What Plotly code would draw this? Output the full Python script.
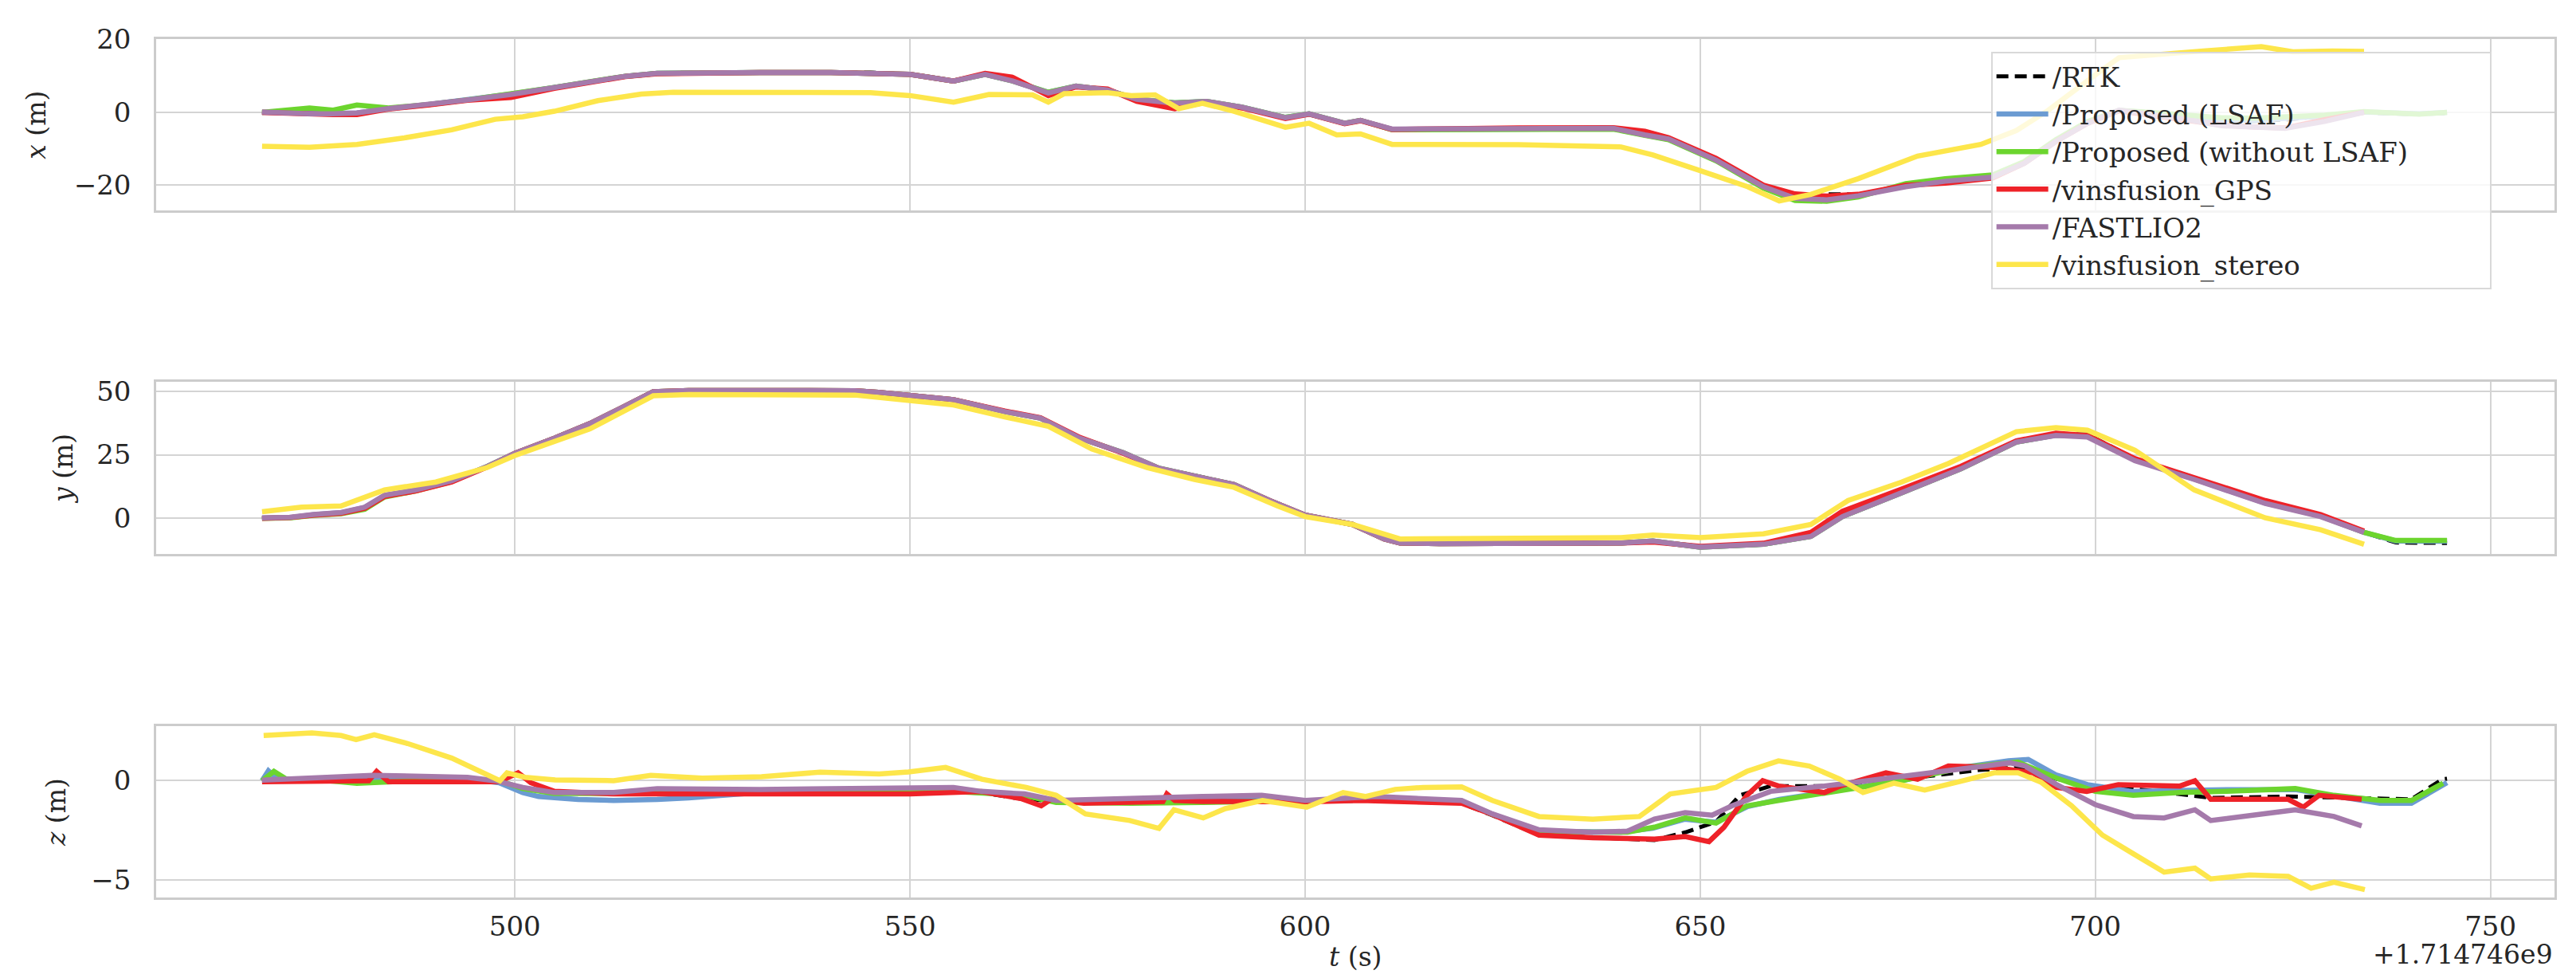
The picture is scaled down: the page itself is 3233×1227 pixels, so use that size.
import plotly.graph_objects as go
from plotly.subplots import make_subplots

# ---- x (m) : shared time grid for the clustered estimators ----
t_x = [468, 471, 474, 477, 480, 484, 489, 494, 499.5, 505, 510, 514, 518, 524, 531, 540, 545,
       550, 555.5, 559.5, 563, 567.5, 571, 575, 578.7, 583.5, 587.5, 592, 597.5, 600.5, 605,
       607, 611, 617, 627, 639, 643, 646, 652, 658, 662, 666, 670, 676, 681, 687, 691, 695,
       699, 703, 707, 711, 716, 720, 724, 729, 734, 737, 741, 744.5]
rtk_x = [0.0, -0.3, -0.4, -0.4, -0.3, 1.0, 2.1, 3.4, 5.0, 6.9, 8.7, 10.0, 10.8, 11.0, 11.0, 11.0,
         10.9, 10.5, 8.7, 10.5, 8.7, 5.4, 7.2, 6.1, 3.6, 2.5, 3.0, 1.4, -1.5, -0.4, -3.0, -2.2,
         -4.6, -4.6, -4.4, -4.4, -6.2, -7.4, -13.0, -20.3, -22.8, -22.5, -22.5, -20.2, -18.8,
         -17.7, -14.0, -8.0, -3.0, 0.5, -0.3, -1.2, -2.2, -2.4, -2.0, -1.0, 0.0, -0.3, -0.5, -0.2]
lsaf_x = [0.0, -0.2, -0.3, -0.3, -0.2, 1.0, 2.1, 3.4, 5.0, 6.8, 8.6, 9.9, 10.7, 10.9, 10.9, 10.9,
          10.8, 10.4, 8.6, 10.4, 8.6, 5.5, 7.2, 6.1, 3.6, 2.6, 3.0, 1.4, -1.4, -0.4, -3.0, -2.2,
          -4.7, -4.7, -4.5, -4.5, -6.2, -7.4, -13.2, -20.6, -23.8, -24.2, -23.0, -20.0, -18.6,
          -17.5, -13.8, -7.8, -2.8, 0.5, -0.2, -1.0, -2.0, -2.2, -1.8, -1.0, 0.1, -0.2, -0.4, 0.0]
nolsaf_x = [0.0, 0.5, 1.2, 0.6, 2.0, 1.2, 2.1, 3.4, 5.0, 6.8, 8.6, 9.9, 10.7, 10.9, 10.9, 10.9,
            10.8, 10.4, 8.6, 10.4, 8.6, 5.5, 7.2, 6.1, 3.6, 2.6, 3.0, 1.4, -1.4, -0.4, -3.0, -2.2,
            -4.8, -4.8, -4.6, -4.6, -6.3, -7.5, -13.3, -20.8, -24.2, -24.4, -23.2, -19.6, -18.2,
            -17.2, -13.5, -7.5, -2.5, 0.5, 0.0, -0.8, -1.5, -1.6, -1.2, -0.8, 0.2, -0.2, -0.5, 0.0]
gps_x = [0.0, -0.3, -0.5, -0.6, -0.6, 0.9, 2.0, 3.3, 4.1, 6.6, 8.4, 9.8, 10.6, 10.9, 10.9, 10.9,
         10.8, 10.4, 8.6, 10.7, 9.6, 4.6, 7.0, 6.4, 3.0, 1.0, 2.8, 1.2, -1.7, -0.5, -3.1, -2.3,
         -4.7, -4.5, -4.3, -4.2, -5.2, -7.0, -12.6, -20.0, -22.4, -23.0, -22.5, -20.0, -19.4,
         -18.0, -14.0, -8.0, -3.0, 0.4, -0.7, -1.8, -3.5, -4.0, -4.3, -2.0, 0.0]
fast_x = [0.1, -0.2, -0.4, -0.4, -0.2, 1.0, 2.1, 3.4, 4.9, 6.8, 8.6, 9.9, 10.7, 10.9, 10.9, 10.9,
          10.8, 10.4, 8.6, 10.4, 8.6, 5.3, 7.2, 6.1, 3.6, 2.5, 3.0, 1.4, -1.5, -0.4, -3.0, -2.2,
          -4.6, -4.6, -4.4, -4.4, -6.2, -7.3, -13.1, -20.4, -23.6, -24.0, -22.9, -20.4, -18.9,
          -17.8, -14.0, -8.0, -3.0, 0.6, -0.6, -1.8, -3.7, -4.2, -4.4, -2.5, 0.0]
t_stereo_x = [468, 474, 480, 486, 492, 497.5, 501, 505, 510.5, 516, 520, 531, 545, 550, 555.5,
              560, 565.5, 567.5, 569.5, 575, 578, 581, 584, 587, 591, 597.5, 600.5, 604, 607,
              611, 627, 640, 644, 650, 656, 660, 664, 670, 677.5, 685.5, 690, 694, 697, 700,
              703, 708, 714, 721, 725, 730, 734]
stereo_x = [-9.3, -9.6, -8.8, -7.0, -4.8, -1.9, -1.2, 0.3, 3.2, 5.0, 5.5, 5.4, 5.4, 4.6, 2.8,
            4.9, 4.8, 2.8, 5.1, 5.4, 4.6, 4.8, 1.0, 2.5, 0.3, -4.1, -3.0, -6.2, -5.9, -8.8,
            -8.9, -9.5, -11.7, -16.0, -20.4, -24.3, -22.5, -18.2, -12.0, -8.8, -5.0, 0.5, 5.5,
            10.3, 15.0, 16.0, 16.9, 18.0, 16.6, 16.8, 16.7]

# ---- y (m) ----
t_y = [468, 471.5, 474.5, 478, 481, 483.5, 487.5, 492, 496.5, 500, 505, 509.5, 513.5, 517.5,
       522, 531, 543, 546, 550, 555.5, 562, 566.5, 571.5, 577, 581.5, 586, 591, 595.5, 600,
       606, 610, 612, 617, 640, 644, 650, 658, 664, 668, 675.5, 683, 690, 695, 699, 705,
       712.5, 721.5, 728.5, 734, 738, 741, 744.5]
rtk_y = [0.0, 0.3, 1.4, 2.1, 4.2, 8.9, 11.0, 14.6, 20.3, 25.5, 31.4, 37.2, 43.4, 49.7, 50.2,
         50.1, 50.1, 49.5, 48.1, 46.6, 42.0, 39.4, 31.5, 25.8, 19.7, 16.9, 13.3, 7.0, 1.3, -2.4,
         -8.1, -9.8, -10.0, -9.8, -9.0, -11.4, -10.3, -7.0, 1.0, 10.4, 19.8, 30.2, 33.0, 33.0,
         23.5, 16.0, 6.5, 1.0, -5.5, -9.5, -9.7, -9.7]
lsaf_y = [0.1, 0.3, 1.4, 2.2, 4.3, 9.0, 11.1, 14.7, 20.4, 25.6, 31.5, 37.3, 43.5, 49.8, 50.3,
          50.2, 50.2, 49.6, 48.2, 46.7, 42.0, 39.4, 31.5, 25.8, 19.7, 16.9, 13.3, 7.0, 1.3, -2.4,
          -8.1, -9.7, -9.9, -9.7, -8.9, -11.3, -10.2, -7.1, 0.7, 10.1, 19.5, 30.0, 32.7, 32.4,
          23.0, 15.5, 6.0, 0.9, -5.5, -8.9, -9.0, -9.0]
nolsaf_y = [0.0, 0.2, 1.2, 1.8, 3.6, 8.4, 10.8, 14.5, 20.4, 25.6, 31.5, 37.3, 43.5, 49.8, 50.3,
            50.2, 50.2, 49.6, 48.2, 46.7, 42.0, 39.4, 31.5, 25.8, 19.7, 16.9, 13.3, 7.0, 1.3,
            -2.4, -8.1, -9.7, -9.9, -9.7, -8.9, -11.3, -10.2, -7.1, 0.7, 10.1, 19.5, 30.0, 32.8,
            32.6, 23.2, 15.6, 6.2, 1.0, -5.5, -8.7, -8.7, -8.7]
gps_y = [0.0, 0.3, 1.3, 2.0, 4.0, 8.6, 10.8, 14.3, 20.2, 25.6, 31.5, 37.3, 43.5, 49.8, 50.3,
         50.2, 50.2, 49.6, 48.2, 46.7, 42.2, 39.6, 31.8, 25.6, 19.6, 16.8, 13.2, 7.0, 1.3, -2.4,
         -8.1, -9.7, -9.9, -9.7, -9.3, -11.0, -9.8, -5.5, 2.8, 11.5, 20.5, 30.5, 33.5, 32.6,
         23.5, 16.0, 7.0, 1.5, -5.0]
fast_y = [0.2, 0.4, 1.5, 2.3, 4.4, 9.1, 11.2, 14.8, 20.4, 25.6, 31.5, 37.3, 43.5, 49.8, 50.3,
          50.2, 50.2, 49.6, 48.2, 46.7, 42.0, 39.4, 31.5, 25.8, 19.7, 16.9, 13.3, 7.0, 1.3, -2.4,
          -8.1, -9.7, -9.9, -9.7, -8.9, -11.3, -10.2, -7.1, 0.7, 10.1, 19.5, 30.0, 32.6, 32.0,
          22.7, 15.3, 5.9, 0.7, -5.5]
t_stereo_y = [468, 473, 478, 483.5, 490, 496.5, 500, 509.5, 517.5, 522, 543, 550, 555.5, 562,
              567.5, 573, 580, 586, 591, 596.5, 600, 606, 610, 612, 640, 644, 650, 658, 664,
              668.7, 675.5, 681.4, 690, 695, 699, 705, 712.5, 721.5, 728.5, 734]
stereo_y = [2.6, 4.4, 4.9, 11.2, 14.3, 20.0, 24.7, 35.2, 48.2, 48.7, 48.5, 46.1, 44.6, 39.9,
            36.2, 27.3, 20.0, 15.3, 12.2, 4.9, 0.7, -2.4, -6.1, -8.1, -7.6, -6.6, -7.6, -6.1,
            -2.4, 7.0, 14.3, 21.6, 34.1, 35.7, 34.7, 26.8, 11.2, 0.2, -4.5, -10.2]

# ---- z (m) ----
t_rtk_z = [468, 482, 494, 498, 501, 505, 512.5, 531, 550, 559, 563.8, 568.5, 578, 587, 600, 609,
           619.8, 623.7, 629.6, 636.4, 644.2, 648.1, 652, 655, 658.9, 665.7, 675.5, 685.3,
           690.2, 695.1, 700, 704.8, 714.6, 724.4, 734.1, 740, 743.9, 744.5]
rtk_z = [0.0, 0.1, 0.05, 0.0, -0.4, -0.6, -0.65, -0.6, -0.55, -0.6, -0.9, -1.05, -1.0, -0.95,
         -1.05, -1.0, -1.14, -1.75, -2.75, -2.85, -3.0, -2.61, -2.08, -0.74, -0.27, -0.27, 0.07,
         0.54, 0.67, 0.1, -0.34, -0.4, -0.87, -0.8, -0.87, -0.94, 0.07, 0.1]
t_lsaf_z = [468, 468.8, 470, 475, 482, 494, 498, 501, 503, 508, 512.5, 518, 522, 531, 550, 559,
            564.5, 568.5, 578, 587, 600, 609, 619.8, 623.7, 629.6, 640, 644, 648, 652, 656, 660,
            668, 676, 682, 689, 691.5, 695, 699, 704.8, 710.7, 716.6, 725.3, 730, 736, 740, 744.5]
lsaf_z = [0.0, 0.5, 0.05, 0.1, 0.15, 0.1, -0.1, -0.6, -0.8, -0.95, -1.0, -0.95, -0.87, -0.6,
          -0.45, -0.6, -0.75, -1.05, -0.95, -0.85, -1.05, -0.9, -1.05, -1.7, -2.55, -2.6, -2.4,
          -1.95, -2.1, -1.3, -0.95, -0.45, 0.05, 0.6, 1.0, 1.07, 0.3, -0.2, -0.55, -0.5, -0.45,
          -0.45, -0.75, -1.14, -1.14, -0.1]
t_nolsaf_z = [468, 469.5, 471, 475, 480, 484, 494, 498, 501, 505, 512.5, 518, 531, 550, 559,
              564.5, 568.5, 578, 587, 600, 609, 619.8, 623.7, 629.6, 640.8, 644.2, 648.1, 652,
              655.9, 659.9, 667.7, 675.5, 683.3, 690.2, 695.1, 700, 704.8, 710.7, 716.6, 725.3,
              730.2, 736.1, 740, 744]
nolsaf_z = [0.0, 0.47, 0.1, 0.05, -0.13, -0.05, 0.1, 0.0, -0.4, -0.65, -0.65, -0.5, -0.5, -0.42,
            -0.6, -0.75, -1.1, -1.14, -1.1, -1.05, -0.95, -1.05, -1.7, -2.6, -2.6, -2.35, -1.88,
            -2.14, -1.27, -1.0, -0.47, 0.0, 0.67, 0.94, 0.13, -0.54, -0.74, -0.6, -0.54, -0.4,
            -0.74, -1.0, -1.0, -0.13]
t_gps_z = [468, 475, 481.5, 482.5, 484, 494, 498, 500.4, 502, 505, 512.5, 531, 550, 559, 564,
           566.6, 568, 572, 578, 582, 582.5, 583.5, 587, 594.5, 600, 607, 619.8, 623.7, 629.6,
           636.4, 644.2, 648.1, 651.1, 653, 655.9, 657.9, 659.9, 665.7, 667.7, 673.5, 677.5,
           681.4, 687.2, 692.1, 695.1, 698.9, 702.9, 710.7, 712.6, 714.6, 724.4, 726.3, 728.3,
           733.7]
gps_z = [-0.05, -0.05, 0.0, 0.47, -0.05, -0.05, -0.05, 0.4, -0.1, -0.54, -0.67, -0.67, -0.67,
         -0.55, -0.9, -1.27, -0.9, -1.14, -1.07, -1.05, -0.67, -1.0, -1.05, -1.07, -1.07, -1.0,
         -1.14, -1.7, -2.75, -2.88, -2.95, -2.82, -3.08, -2.35, -0.74, 0.0, -0.27, -0.6, -0.27,
         0.4, 0.07, 0.74, 0.67, 0.4, -0.34, -0.54, -0.2, -0.27, 0.0, -0.94, -0.94, -1.34, -0.74,
         -0.94]
t_fast_z = [468, 475, 482, 494, 497.5, 501, 505, 512.5, 518, 531, 550, 555.5, 559, 564.5, 568.5,
            578, 587, 594.5, 600, 605.8, 609, 619.8, 623.7, 629.6, 636.4, 640.8, 644.2, 648.1,
            651.5, 654, 658.9, 665.7, 669.6, 675.5, 681.4, 685.3, 689.2, 691.1, 695.1, 700,
            704.8, 708.7, 712.6, 714.6, 719.5, 725.3, 730.2, 733.7]
fast_z = [0.03, 0.17, 0.27, 0.17, 0.0, -0.34, -0.6, -0.6, -0.4, -0.44, -0.34, -0.34, -0.54,
          -0.67, -1.0, -0.87, -0.8, -0.74, -1.0, -0.87, -0.8, -1.0, -1.68, -2.48, -2.61, -2.55,
          -1.94, -1.61, -1.74, -1.27, -0.54, -0.27, -0.07, 0.2, 0.54, 0.74, 0.9, 0.74, -0.2,
          -1.21, -1.81, -1.88, -1.47, -2.01, -1.74, -1.47, -1.81, -2.28]
t_stereo_z = [468.2, 474.3, 478, 479.9, 482.2, 486.4, 492, 495.7, 498.1, 499, 501.3, 505.1,
              512.5, 517.2, 523.7, 531.2, 538.6, 546.1, 549.8, 554.5, 559.1, 564.7, 568.5,
              572.2, 577.8, 581.5, 583.4, 587.1, 589.9, 594.6, 600.2, 604.8, 607.6, 611.4,
              614.9, 619.8, 623.7, 629.6, 636.4, 642.3, 646.2, 652, 655.9, 659.9, 663.8, 667.7,
              670.6, 674.5, 678.4, 683.3, 687.2, 690.2, 693.1, 697, 700.9, 704.8, 708.7, 712.6,
              714.6, 719.5, 724.4, 727.3, 730.2, 734.1]
stereo_z = [2.28, 2.41, 2.28, 2.08, 2.32, 1.88, 1.14, 0.47, 0.0, 0.4, 0.17, 0.04, 0.0, 0.27,
            0.13, 0.2, 0.43, 0.34, 0.44, 0.67, 0.07, -0.34, -0.74, -1.68, -2.01, -2.41, -1.47,
            -1.88, -1.41, -1.0, -1.34, -0.6, -0.8, -0.44, -0.34, -0.31, -1.0, -1.81, -1.94,
            -1.81, -0.67, -0.34, 0.47, 1.0, 0.74, 0.07, -0.6, -0.13, -0.47, 0.0, 0.4, 0.4,
            -0.07, -1.27, -2.75, -3.69, -4.62, -4.42, -4.96, -4.76, -4.83, -5.43, -5.13, -5.5]

names = ["/RTK", "/Proposed (LSAF)", "/Proposed (without LSAF)", "/vinsfusion_GPS",
         "/FASTLIO2", "/vinsfusion_stereo"]
colors = ["#000000", "#6b9bd2", "#6cd52e", "#ee2228", "#a57aab", "#fde64b"]

series = [
    [(t_x, rtk_x), (t_y, rtk_y), (t_rtk_z, rtk_z)],
    [(t_x, lsaf_x), (t_y, lsaf_y), (t_lsaf_z, lsaf_z)],
    [(t_x, nolsaf_x), (t_y, nolsaf_y), (t_nolsaf_z, nolsaf_z)],
    [(t_x, gps_x), (t_y, gps_y), (t_gps_z, gps_z)],
    [(t_x, fast_x), (t_y, fast_y), (t_fast_z, fast_z)],
    [(t_stereo_x, stereo_x), (t_stereo_y, stereo_y), (t_stereo_z, stereo_z)],
]

FONT = "DejaVu Serif"
TXT = "#262626"
# widen the legend box a bit, as in the original figure
legend_pad = "\u00a0" * 9

fig = make_subplots(rows=3, cols=1, shared_xaxes=True)

for i, (name, col) in enumerate(zip(names, colors)):
    label = name + legend_pad if i == 2 else name
    for row, (tt, vv) in enumerate(series[i], start=1):
        line = dict(color=col, width=6.5)
        if i == 0:
            line = dict(color=col, width=5, dash="15px,8px")
        fig.add_trace(go.Scatter(x=tt[:len(vv)], y=vv, mode="lines", name=label, line=line,
                                 legendgroup=name, showlegend=(row == 1)),
                      row=row, col=1)

axis_common = dict(showgrid=True, gridcolor="#d4d4d4", gridwidth=2, zeroline=False,
                   showline=True, linecolor="#cccccc", linewidth=2.5, mirror=True,
                   tickfont=dict(family=FONT, size=34, color=TXT))
title_font = dict(family=FONT, size=33, color=TXT)

for r in (1, 2, 3):
    fig.update_xaxes(range=[454.6, 758.1], dtick=50, tick0=0, row=r, col=1,
                     showticklabels=(r == 3), ticklabelstandoff=4, **axis_common)

fig.update_yaxes(range=[-27, 20.1], dtick=20, tick0=0, domain=[0.800, 1.0], row=1, col=1,
                 ticklabelstandoff=22, **axis_common,
                 title=dict(text="<i>x</i> (m)", font=title_font, standoff=26))
fig.update_yaxes(range=[-13.9, 53.7], dtick=25, tick0=0, domain=[0.4005, 0.6007], row=2, col=1,
                 ticklabelstandoff=22, **axis_common,
                 title=dict(text="<i>y</i> (m)", font=title_font, standoff=20))
fig.update_yaxes(range=[-5.9, 2.75], dtick=5, tick0=0, domain=[0.0, 0.1995], row=3, col=1,
                 ticklabelstandoff=22, **axis_common,
                 title=dict(text="<i>z</i> (m)", font=title_font, standoff=22))

fig.add_annotation(text="<i>t</i> (s)", xref="paper", yref="paper", x=0.5, y=-0.0695,
                   xanchor="center", yanchor="middle", showarrow=False, font=title_font)
fig.add_annotation(text="+1.714746e9", xref="paper", yref="paper", x=1.0, y=-0.066,
                   xanchor="right", yanchor="middle", showarrow=False,
                   font=dict(family=FONT, size=33, color=TXT))

fig.update_layout(
    width=3233, height=1227,
    margin=dict(l=188, r=35, t=41, b=109),
    paper_bgcolor="white", plot_bgcolor="white",
    font=dict(family=FONT, color=TXT),
    legend=dict(x=0.765, y=0.985, xanchor="left", yanchor="top",
                bgcolor="rgba(255,255,255,0.8)", bordercolor="#d9d9d9", borderwidth=2,
                font=dict(family=FONT, size=34, color=TXT), itemwidth=65,
                tracegroupgap=0),
)

fig.write_html("out.html")
